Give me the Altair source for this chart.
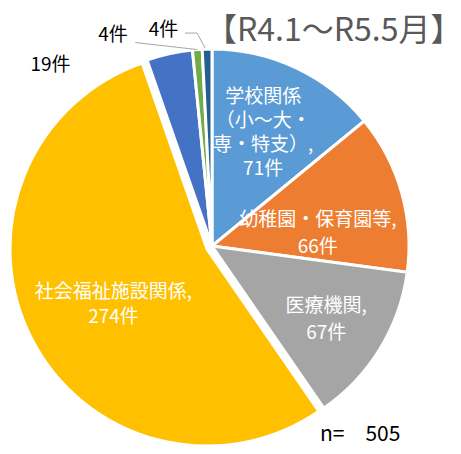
import math
import altair as alt
import pandas as pd

# ---- data ----
cats = ["学校関係", "幼稚園・保育園等", "医療機関", "社会福祉施設関係", "その他1", "その他2", "その他3"]
values = [71, 66, 67, 274, 19, 4, 4]
labels = [
    "学校関係\n（小～大・\n専・特支）,\n71件",
    "幼稚園・保育園等,\n66件",
    "医療機関,\n67件",
    "社会福祉施設関係,\n274件",
    "19件",
    "4件",
    "4件",
]
colors = ["#5B9BD5", "#ED7D31", "#A5A5A5", "#FFC000", "#4472C4", "#70AD47", "#255E91"]
title_text = "【R4.1～R5.5月】"
n_text = "n=\u2002\u2002505"

df = pd.DataFrame({"cat": cats, "value": values, "label": labels, "order": list(range(len(cats)))})

TOTAL = sum(values)
CX, CY = 204, 238
R = 197
FONT = "Noto Sans CJK JP"

theta_scale = alt.Scale(domain=[0, TOTAL], range=[0, 2 * math.pi])
color = alt.Color("cat:N", scale=alt.Scale(domain=cats, range=colors), legend=None)

base = (
    alt.Chart(df)
    .transform_window(cum="sum(value)", sort=[alt.SortField("order")])
    .transform_calculate(start="datum.cum - datum.value", mid="datum.cum - datum.value / 2")
)

arc_enc = dict(
    theta=alt.Theta("start:Q", scale=theta_scale),
    theta2="cum:Q",
    color=color,
)

pie = base.transform_filter(alt.datum.order != 3).mark_arc(
    x=CX, y=CY, outerRadius=R, stroke="white", strokeWidth=3
).encode(**arc_enc)

pie_explode = base.transform_filter(alt.datum.order == 3).mark_arc(
    x=CX - 5, y=CY + 3, outerRadius=R, stroke="white", strokeWidth=3
).encode(**arc_enc)


def lab(i, r, dx=0, dy=0, col="white", size=19, lh=24):
    return base.transform_filter(alt.datum.order == i).mark_text(
        x=CX, y=CY, radius=r, dx=dx, dy=dy, color=col, fontSize=size, font=FONT,
        lineBreak="\n", lineHeight=lh, align="center", baseline="middle",
    ).encode(
        theta=alt.Theta("mid:Q", scale=theta_scale, stack=False),
        text="label:N",
    )


def leader(i, r, ox1, oy1, ox2, oy2):
    ang = f"datum.mid / {TOTAL} * 2 * PI"
    return base.transform_filter(alt.datum.order == i).transform_calculate(
        ex=f"{CX} + {r} * sin({ang})", ey=f"{CY} - {r} * cos({ang})"
    ).transform_calculate(
        sx=f"datum.ex + {ox1}", sy=f"datum.ey + {oy1}",
        tx=f"datum.ex + {ox2}", ty=f"datum.ey + {oy2}",
    ).mark_rule(color="#A6A6A6", strokeWidth=1).encode(
        x=alt.X("sx:Q", scale=None, axis=None),
        y=alt.Y("sy:Q", scale=None, axis=None),
        x2="tx:Q",
        y2="ty:Q",
    )


labels_layers = [
    lab(0, 122, dx=-1, dy=-39, lh=24),
    lab(1, 110, dy=4, lh=27),
    lab(2, 134, dy=-10, lh=27),
    lab(3, 115, dx=4, dy=-6, lh=25),
    lab(4, 215, dx=-115, dy=29, col="black", size=19),
    lab(5, 215, dx=-83, dy=3, col="black", size=19),
    lab(6, 220, dx=-43, dy=4, col="black", size=19),
]

leaders = [
    leader(5, 197, 0, 0, -62, -7),
    leader(6, 197, -2, -1, -10, -16),
    leader(6, 197, -10, -16, -22, -16),
]

title = alt.Chart(pd.DataFrame({"t": [title_text]})).mark_text(
    align="left", baseline="middle", fontSize=32, font=FONT, color="#595959"
).encode(x=alt.value(197), y=alt.value(23), text="t:N")

ntext = alt.Chart(pd.DataFrame({"t": [n_text]})).mark_text(
    align="left", baseline="middle", fontSize=21, font=FONT, color="black"
).encode(x=alt.value(312), y=alt.value(427), text="t:N")

chart = alt.layer(pie, pie_explode, *leaders, *labels_layers, title, ntext).properties(
    width=445, height=438, padding=0, autosize=alt.AutoSizeParams(type="none")
).configure_view(strokeWidth=0)

chart.save("out.html", embed_options={"renderer": "svg", "actions": False})
